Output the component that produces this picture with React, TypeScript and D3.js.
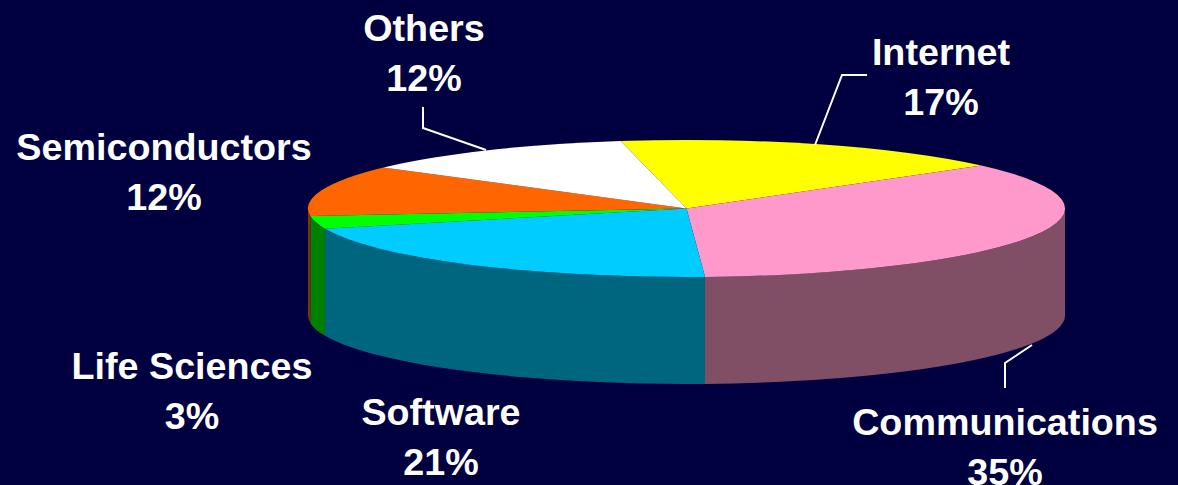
import React from "react";
import * as d3 from "d3";

const categories = ["Internet", "Communications", "Software", "Life Sciences", "Semiconductors", "Others"];
const shares = [17, 35, 21, 3, 12, 12];
const topColors = ["#FFFF00", "#FF99CC", "#00CCFF", "#00FF00", "#FF6600", "#FFFFFF"];
const sideColors = ["#808000", "#804F66", "#006680", "#008000", "#803300", "#808080"];
const labelCenters = [941, 1005, 441, 192, 164, 424];
const labelBaselines = [65, 435, 425, 379, 160, 41];

const W = 1178, H = 485;
const cx = 686.5, cy = 208.5, rx = 378.5, ry = 68.5, depth = 107;
const startDeg = -10;

const pie = d3.pie<number>().sort(null).startAngle((startDeg * Math.PI) / 180).endAngle(((startDeg + 360) * Math.PI) / 180);
const arcs = pie(shares);
const unitArc = d3.arc<d3.PieArcDatum<number>>().innerRadius(0).outerRadius(1);

const xAt = d3.scaleLinear().domain([-1, 1]).range([cx - rx, cx + rx]);
const yAt = d3.scaleLinear().domain([-1, 1]).range([cy - ry, cy + ry]);

function wallPath(a0: number, a1: number): string | null {
  // Only the front half (angles 90° to 270°) of the rim is visible.
  const lo = Math.max(a0, Math.PI / 2), hi = Math.min(a1, (3 * Math.PI) / 2);
  if (hi <= lo) return null;
  const ex = (t: number) => xAt(Math.sin(t));
  const ey = (t: number) => yAt(-Math.cos(t));
  const large = hi - lo > Math.PI ? 1 : 0;
  return `M${ex(lo)},${ey(lo)}A${rx},${ry} 0 ${large} 1 ${ex(hi)},${ey(hi)}` +
    `L${ex(hi)},${ey(hi) + depth}A${rx},${ry} 0 ${large} 0 ${ex(lo)},${ey(lo) + depth}Z`;
}

const leaders = [
  "M815,145L842,75H867",
  "M1032,345L1005,363V388",
  "M423,107V128L486,150",
];

export default function App() {
  return (
    <svg width={W} height={H} viewBox={`0 0 ${W} ${H}`}
      style={{ position: "fixed", left: 0, top: 0, display: "block" }}>
      <rect width={W} height={H} fill="#000040" />
      {arcs.map((a, i) => {
        const d = wallPath(a.startAngle, a.endAngle);
        return d ? <path key={categories[i]} d={d} fill={sideColors[i]} /> : null;
      })}
      <g transform={`translate(${cx},${cy}) scale(${rx},${ry})`}>
        {arcs.map((a, i) => (
          <path key={categories[i]} d={unitArc(a) ?? ""} fill={topColors[i]} />
        ))}
      </g>
      {leaders.map((d) => (
        <path key={d} d={d} fill="none" stroke="#FFFFFF" strokeWidth={2} />
      ))}
      {categories.map((c, i) => (
        <text key={c} textAnchor="middle" fill="#FFFFFF"
          fontFamily="'Liberation Sans', Arial, sans-serif" fontWeight="bold" fontSize={37.7}>
          <tspan x={labelCenters[i]} y={labelBaselines[i]}>{c}</tspan>
          <tspan x={labelCenters[i]} y={labelBaselines[i] + 49.5}>{shares[i]}%</tspan>
        </text>
      ))}
    </svg>
  );
}
